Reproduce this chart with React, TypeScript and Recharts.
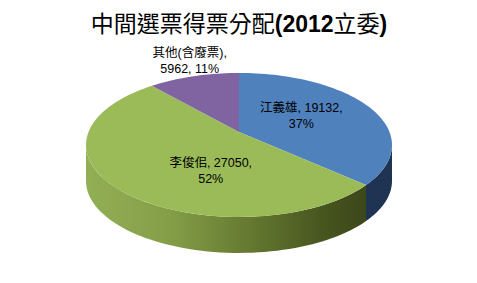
import React from 'react';
import { PieChart, Pie, Cell } from 'recharts';

const names = ['江義雄', '李俊佀', '其他(含廢票)'];
const votes = [19132, 27050, 5962];

const TOP_COLORS = ['#4F81BD', '#9BBB59', '#8064A2'];
const SIDE_COLORS = ['#1F3453', 'url(#greenSide)', '#4D3B63'];
// label nudges (px) from the projected mid-angle point
const LABEL_NUDGE = [
  [-4, -3],
  [29, 12],
  [-4, -16],
];
const LABEL_RADIUS = [0.5, 0.5, 1.0];

const data = names.map((name, i) => ({ name, value: votes[i] }));

// fake 3-D: tilted disc with a bit of perspective
const K = 0.18;
const AX = 150.5;
const BY = 69.65;
const DEPTH = 36;
const FRONT_LO = -180 + (Math.asin(K) * 180) / Math.PI;
const FRONT_HI = -(Math.asin(K) * 180) / Math.PI;

function proj(cx: number, cy: number, deg: number, f = 1): [number, number] {
  const t = (deg * Math.PI) / 180;
  const X = f * Math.cos(t);
  const Z = f * Math.sin(t);
  const w = 1 + K * Z;
  return [cx + (AX * X) / w, cy - (BY * Z) / w];
}

function arcPts(cx: number, cy: number, a: number, b: number, dy = 0) {
  const n = Math.max(2, Math.ceil(Math.abs(b - a) / 2));
  const out: string[] = [];
  for (let i = 0; i <= n; i++) {
    const [x, y] = proj(cx, cy, a + ((b - a) * i) / n);
    out.push(`${x.toFixed(2)},${(y + dy).toFixed(2)}`);
  }
  return out;
}

function Slice3D(props: any) {
  const { cx, cy, startAngle, endAngle, index } = props;
  const top = `M${cx},${cy} L${arcPts(cx, cy, startAngle, endAngle).join(' L')} Z`;
  const lo = Math.max(Math.min(startAngle, endAngle), FRONT_LO);
  const hi = Math.min(Math.max(startAngle, endAngle), FRONT_HI);
  let side = null;
  if (hi > lo) {
    const upper = arcPts(cx, cy, hi, lo);
    const lower = arcPts(cx, cy, lo, hi, DEPTH);
    side = (
      <path d={`M${upper.join(' L')} L${lower.join(' L')} Z`} fill={SIDE_COLORS[index]} stroke="none" />
    );
  }
  return (
    <g>
      {side}
      <path d={top} fill={TOP_COLORS[index]} stroke="none" />
    </g>
  );
}

const renderLabel = (props: any) => {
  const { cx, cy, midAngle, index, percent, value, name } = props;
  const [bx, by] = proj(cx, cy, midAngle, LABEL_RADIUS[index]);
  const x = bx + LABEL_NUDGE[index][0];
  const y = by + LABEL_NUDGE[index][1];
  const pct = `${Math.round(percent * 100)}%`;
  const lines =
    name.length > 3 ? [`${name},`, `${value}, ${pct}`] : [`${name}, ${value},`, pct];
  return (
    <text
      x={x}
      y={y}
      textAnchor="middle"
      fill="#000"
      fontSize={12.5}
      fontFamily="'Liberation Sans', 'Noto Sans CJK TC', sans-serif"
    >
      <tspan x={x} dy={-3}>{lines[0]}</tspan>
      <tspan x={x} dy={15.5}>{lines[1]}</tspan>
    </text>
  );
};

export default function App() {
  return (
    <div style={{ position: 'absolute', left: 0, top: 0, width: 477, height: 283, background: '#fff' }}>
      <PieChart width={477} height={283} margin={{ top: 0, right: 0, bottom: 0, left: 0 }}>
        <defs>
          <linearGradient id="greenSide" x1="0" y1="0" x2="1" y2="0">
            <stop offset="0%" stopColor="#93AF55" />
            <stop offset="30%" stopColor="#849E48" />
            <stop offset="60%" stopColor="#63772F" />
            <stop offset="85%" stopColor="#47551F" />
            <stop offset="100%" stopColor="#3C471B" />
          </linearGradient>
        </defs>
        <text
          x={239}
          y={32}
          textAnchor="middle"
          fill="#000"
          fontSize={23}
          fontFamily="'Liberation Sans', 'Noto Sans CJK TC', sans-serif"
        >
          <tspan>中間選票得票分配</tspan>
          <tspan fontWeight="bold">(2012</tspan>
          <tspan>立委</tspan>
          <tspan fontWeight="bold">)</tspan>
        </text>
        <Pie
          data={data}
          dataKey="value"
          nameKey="name"
          cx={239}
          cy={132}
          outerRadius={150}
          startAngle={90}
          endAngle={-270}
          stroke="none"
          shape={Slice3D}
          activeShape={Slice3D}
          inactiveShape={Slice3D}
          label={renderLabel}
          labelLine={false}
          isAnimationActive={false}
        >
          {data.map((d, i) => (
            <Cell key={d.name} fill={TOP_COLORS[i]} />
          ))}
        </Pie>
      </PieChart>
    </div>
  );
}
